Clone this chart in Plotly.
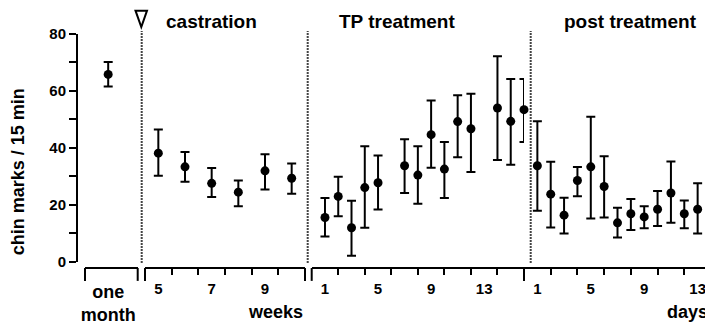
import numpy as np
import plotly.graph_objects as go

# values (mean, upper end of bar, lower end of bar)
month_x = [0]
month_mean = [65.8]
month_hi = [70.2]
month_lo = [61.5]

castr_weeks = [5, 6, 7, 8, 9, 10]
castr_mean = [38.1, 33.3, 27.5, 24.4, 31.9, 29.3]
castr_hi = [46.4, 38.5, 32.9, 28.5, 37.7, 34.5]
castr_lo = [30.2, 28.1, 22.7, 19.4, 25.3, 23.8]

tp_days = [1, 2, 3, 4, 5, 7, 8, 9, 10, 11, 12, 14, 15, 16]
tp_mean = [15.5, 22.9, 11.9, 26.0, 27.7, 33.7, 30.4, 44.6, 32.5, 49.2, 46.7, 54.0, 49.3, 53.4]
tp_hi = [22.3, 29.8, 21.4, 40.5, 37.3, 43.0, 40.5, 56.6, 42.0, 58.5, 59.0, 72.2, 64.2, 64.2]
tp_lo = [8.8, 15.9, 2.0, 11.9, 18.3, 24.1, 20.3, 33.0, 22.3, 36.7, 31.5, 35.7, 34.0, 42.0]

post_days = [1, 2, 3, 4, 5, 6, 7, 8, 9, 10, 11, 12, 13]
post_mean = [33.7, 23.7, 16.3, 28.5, 33.3, 26.4, 13.6, 16.8, 15.7, 18.4, 24.1, 16.8, 18.4]
post_hi = [49.3, 35.1, 22.4, 33.2, 50.9, 37.0, 18.9, 22.0, 19.4, 24.8, 35.2, 21.5, 27.5]
post_lo = [17.9, 12.0, 9.9, 23.0, 15.1, 15.5, 8.5, 11.1, 11.7, 12.5, 13.6, 11.7, 9.9]

y_ticks = [0, 20, 40, 60, 80]
castr_ticks = [5, 7, 9]
day_ticks = [1, 5, 9, 13]

FONT = "Liberation Sans, Arial, sans-serif"
OFF = 8  # page body margin: the figure starts 8px in from the window corner
W, H = 713 - OFF, 325 - OFF
L, R, T, B = 77 - OFF, 0, 34 - OFF, 55
PW, PH = W - L - R, H - T - B


def px(x):  # window pixel -> paper x
    return (x - OFF - L) / PW


def py(y):  # window pixel -> paper y
    return (H - B - (y - OFF)) / PH


def err_trace(x, mean, hi, lo, xa):
    mean = np.array(mean)
    return go.Scatter(
        x=x, y=mean, xaxis=xa, yaxis="y", mode="markers",
        marker=dict(color="black", size=9),
        error_y=dict(type="data", symmetric=False,
                     array=np.array(hi) - mean, arrayminus=mean - np.array(lo),
                     color="black", thickness=2, width=4.5),
        showlegend=False, cliponaxis=False)


fig = go.Figure()
fig.add_trace(err_trace(month_x, month_mean, month_hi, month_lo, "x"))
fig.add_trace(err_trace(castr_weeks, castr_mean, castr_hi, castr_lo, "x2"))
fig.add_trace(err_trace(tp_days, tp_mean, tp_hi, tp_lo, "x3"))
fig.add_trace(err_trace(post_days, post_mean, post_hi, post_lo, "x4"))

num_font = dict(family=FONT, size=15, color="black", weight="bold")
word_font = dict(family=FONT, size=18, color="black", weight="bold")


def bottom_axis(dom, rng, tickvals, ticktext, minor_vals, font=num_font):
    return dict(
        domain=[px(dom[0]), px(dom[1])], range=rng, anchor="free", position=0,
        showline=True, linecolor="black", linewidth=2, showgrid=False, zeroline=False,
        tickvals=tickvals, ticktext=ticktext, ticks="outside", ticklen=6,
        tickcolor="rgba(0,0,0,0)", tickfont=font, ticklabelstandoff=1,
        minor=dict(tickvals=minor_vals, ticks="outside", ticklen=6, tickwidth=2,
                   tickcolor="black", showgrid=False),
    )


fig.update_layout(
    width=W, height=H,
    margin=dict(l=L, r=R, t=T, b=B),
    paper_bgcolor="white", plot_bgcolor="white",
    font=dict(family=FONT, color="black"),
    xaxis=bottom_axis((85, 137.7), [-0.44, 0.56], month_x, ["one<br>month"], [],
                      font=word_font),
    xaxis2=bottom_axis((145, 305), [4.5, 10.5], castr_ticks,
                       [str(v) for v in castr_ticks], [5.5, 6.5, 7.5, 8.5, 9.5]),
    xaxis3=bottom_axis((311.7, 524), [0, 16], day_ticks,
                       [str(v) for v in day_ticks], list(range(2, 16, 2))),
    xaxis4=bottom_axis((524, 711), [0, 14], day_ticks,
                       [str(v) for v in day_ticks], list(range(2, 14, 2))),
    yaxis=dict(
        domain=[py(263.5), 1], range=[0, 80], anchor="free", position=0,
        showline=True, linecolor="black", linewidth=2, showgrid=False, zeroline=False,
        tickvals=y_ticks, ticks="outside", ticklen=7, tickwidth=2, tickcolor="black",
        tickfont=num_font,
        minor=dict(tickvals=[10, 30, 50, 70], ticks="outside", ticklen=7,
                   tickwidth=2, tickcolor="black", showgrid=False),
    ),
)

# period separators (dotted) and the castration marker
for xp in [141.7, 307.7, 530.7]:
    fig.add_shape(type="line", xref="paper", yref="paper",
                  x0=px(xp), x1=px(xp), y0=py(265), y1=py(31),
                  line=dict(color="#444444", width=2, dash="2px,1px"))
fig.add_shape(type="path", xref="paper", yref="paper",
              path="M %f,%f L %f,%f L %f,%f Z" % (px(135.5), py(10.5), px(147), py(10.5),
                                                  px(141.3), py(27)),
              line=dict(color="black", width=2), fillcolor="white")

# long end ticks of the bracket axes
for xp in [85, 137.7, 145, 305, 311.7, 524, 711]:
    fig.add_shape(type="line", xref="paper", yref="paper",
                  x0=px(xp), x1=px(xp), y0=py(270), y1=py(283),
                  line=dict(color="black", width=2))

title_font = dict(family=FONT, size=19, color="black", weight="bold")
for text, xc in [("castration", 211), ("TP treatment", 397), ("post treatment", 630.5)]:
    fig.add_annotation(text=text, xref="paper", yref="paper", x=px(xc), y=py(21),
                       showarrow=False, font=title_font, xanchor="center", yanchor="middle")

for text, xc in [("weeks", 275), ("days", 687)]:
    fig.add_annotation(text=text, xref="paper", yref="paper", x=px(xc), y=py(314),
                       showarrow=False, font=word_font, xanchor="center", yanchor="middle")

fig.add_annotation(text="chin marks / 15 min", xref="paper", yref="paper",
                   x=px(17.5), y=py(173), textangle=-90, showarrow=False,
                   font=word_font, xanchor="center", yanchor="middle")

fig.write_html("out.html")
